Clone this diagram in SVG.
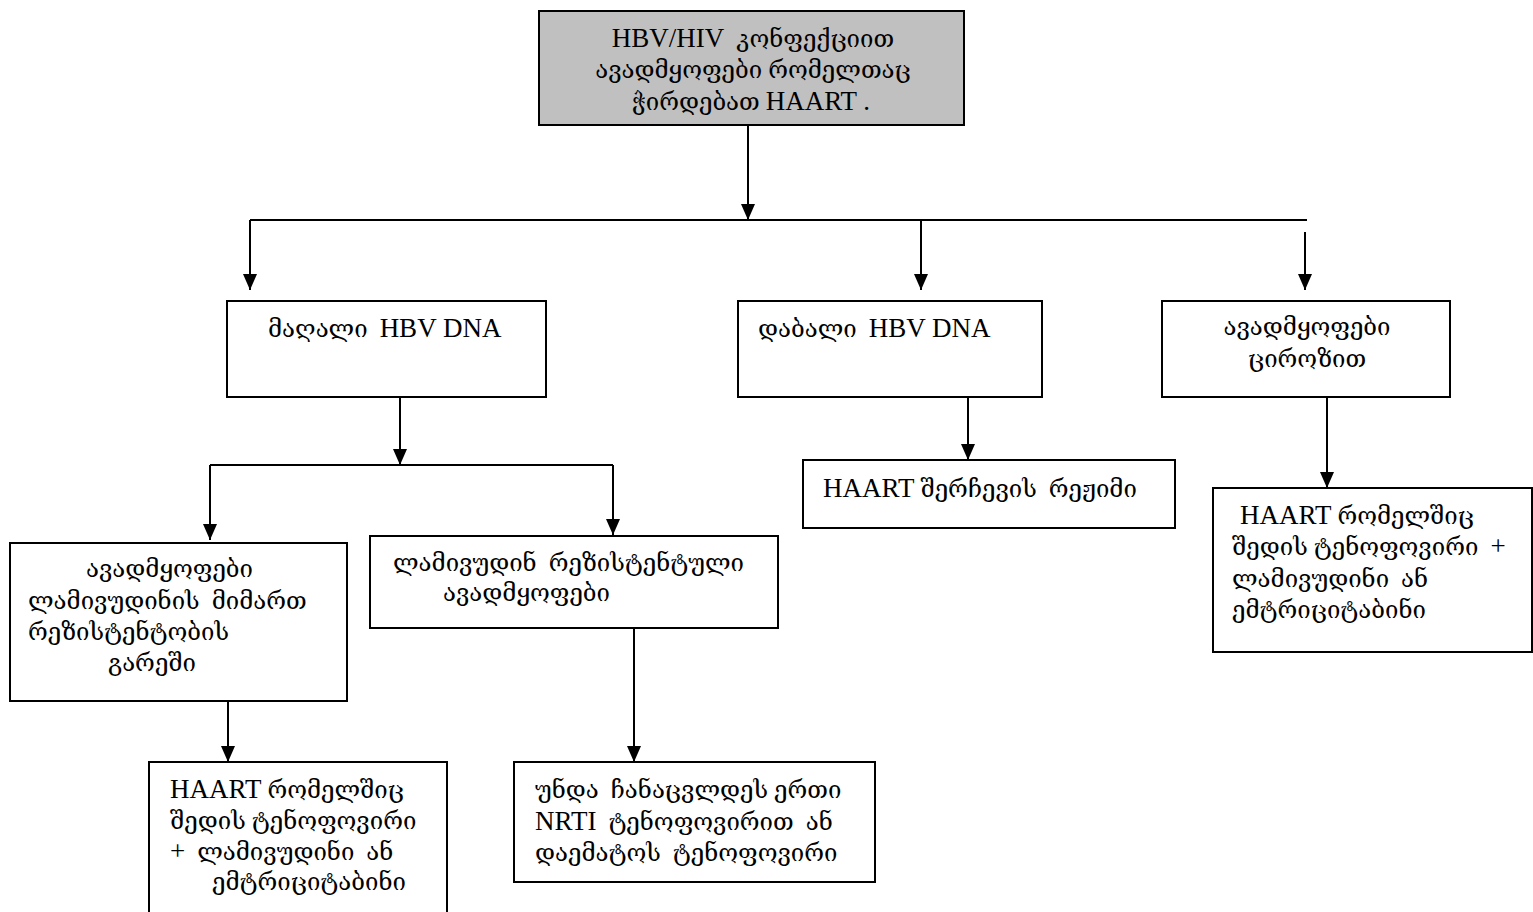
<svg xmlns="http://www.w3.org/2000/svg" width="1533" height="912" viewBox="0 0 1533 912">
<style>
.box{fill:#ffffff;stroke:#000000;stroke-width:2}
.grey{fill:#c0c0c0;stroke:#000000;stroke-width:2}
.t{font-family:"Liberation Serif","DejaVu Serif",serif;font-size:24px;fill:#000000;white-space:pre}
.l{font-size:27px}
.c{text-anchor:middle}
.ln{fill:none;stroke:#000000;stroke-width:2}
</style>
<defs>
<marker id="arr" viewBox="0 0 16 14" refX="16" refY="7" markerWidth="16" markerHeight="14" markerUnits="userSpaceOnUse" orient="auto">
<path d="M0,0 L16,7 L0,14 z" fill="#000000"/>
</marker>
</defs>
<rect width="1533" height="912" fill="#ffffff"/>
<g id="connectors">
<path class="ln" d="M748,125 V220" marker-end="url(#arr)"/>
<path class="ln" d="M250,220 H1307"/>
<path class="ln" d="M250,220 V290" marker-end="url(#arr)"/>
<path class="ln" d="M921,220 V290" marker-end="url(#arr)"/>
<path class="ln" d="M1305,232 V290" marker-end="url(#arr)"/>
<path class="ln" d="M400,397 V465" marker-end="url(#arr)"/>
<path class="ln" d="M210,465 H613"/>
<path class="ln" d="M210,465 V540" marker-end="url(#arr)"/>
<path class="ln" d="M613,465 V535" marker-end="url(#arr)"/>
<path class="ln" d="M968,392 V460" marker-end="url(#arr)"/>
<path class="ln" d="M1327,393 V488" marker-end="url(#arr)"/>
<path class="ln" d="M228,701 V762" marker-end="url(#arr)"/>
<path class="ln" d="M634,628 V762" marker-end="url(#arr)"/>
</g>
<g id="n-top">
<rect class="grey" x="539" y="11" width="425" height="114"/>
<text class="t c" x="753" y="47"><tspan class="l">HBV/HIV</tspan>  კონფექციით</text>
<text class="t c" x="753" y="78">ავადმყოფები რომელთაც</text>
<text class="t c" x="751" y="110">ჭირდებათ <tspan class="l">HAART .</tspan></text>
</g>
<g id="n-high">
<rect class="box" x="227" y="301" width="319" height="96"/>
<text class="t" x="268" y="337">მაღალი  <tspan class="l">HBV DNA</tspan></text>
</g>
<g id="n-low">
<rect class="box" x="738" y="301" width="304" height="96"/>
<text class="t" x="758" y="337">დაბალი  <tspan class="l">HBV DNA</tspan></text>
</g>
<g id="n-cirr">
<rect class="box" x="1162" y="301" width="288" height="96"/>
<text class="t c" x="1307" y="335">ავადმყოფები</text>
<text class="t c" x="1307" y="367">ციროზით</text>
</g>
<g id="n-nores">
<rect class="box" x="10" y="543" width="337" height="158"/>
<text class="t" x="86" y="577">ავადმყოფები</text>
<text class="t" x="28" y="609">ლამივუდინის  მიმართ</text>
<text class="t" x="28" y="640">რეზისტენტობის</text>
<text class="t" x="108" y="671">გარეში</text>
</g>
<g id="n-res">
<rect class="box" x="370" y="536" width="408" height="92"/>
<text class="t" x="393" y="571">ლამივუდინ  რეზისტენტული</text>
<text class="t" x="443" y="601">ავადმყოფები</text>
</g>
<g id="n-choice">
<rect class="box" x="803" y="460" width="372" height="68"/>
<text class="t" x="823" y="497"><tspan class="l">HAART</tspan> შერჩევის  რეჟიმი</text>
</g>
<g id="n-cirr-tx">
<rect class="box" x="1213" y="488" width="319" height="164"/>
<text class="t" x="1240" y="524"><tspan class="l">HAART</tspan> რომელშიც</text>
<text class="t" x="1232" y="555">შედის ტენოფოვირი  <tspan class="l">+</tspan></text>
<text class="t" x="1232" y="587">ლამივუდინი  ან</text>
<text class="t" x="1232" y="618">ემტრიციტაბინი</text>
</g>
<g id="n-nores-tx">
<rect class="box" x="149" y="762" width="298" height="160"/>
<text class="t" x="170" y="798"><tspan class="l">HAART</tspan> რომელშიც</text>
<text class="t" x="170" y="829">შედის ტენოფოვირი</text>
<text class="t" x="170" y="860"><tspan class="l">+</tspan>  ლამივუდინი  ან</text>
<text class="t" x="212" y="890">ემტრიციტაბინი</text>
</g>
<g id="n-res-tx">
<rect class="box" x="514" y="762" width="361" height="120"/>
<text class="t" x="535" y="798">უნდა  ჩანაცვლდეს ერთი</text>
<text class="t" x="535" y="830"><tspan class="l">NRTI</tspan>  ტენოფოვირით  ან</text>
<text class="t" x="535" y="861">დაემატოს  ტენოფოვირი</text>
</g>
</svg>
